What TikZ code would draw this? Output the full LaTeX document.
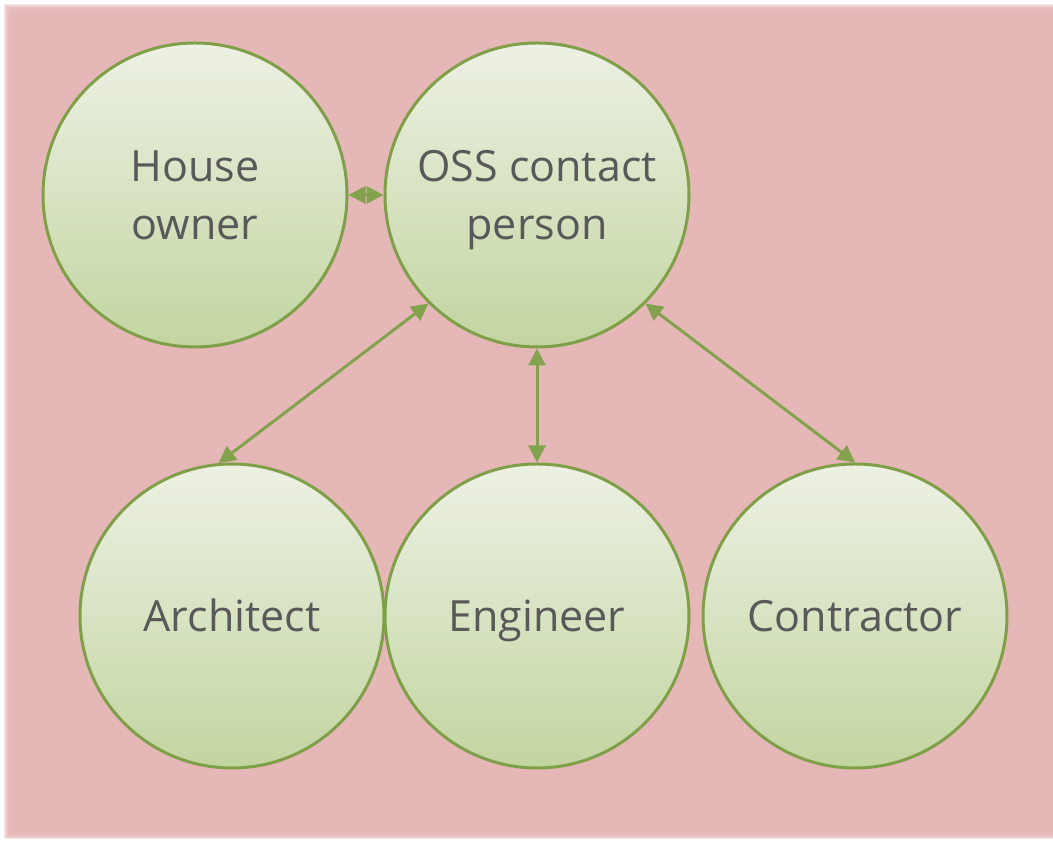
\documentclass[tikz,border=0pt]{standalone}
\usepackage{fontspec}
\setmainfont{Open Sans}
\usetikzlibrary{arrows.meta}

\definecolor{bgpink}{HTML}{E5B8B7}
\definecolor{ringgreen}{HTML}{7F9F48}
\definecolor{linkgreen}{HTML}{84A24E}
\definecolor{filltop}{HTML}{EDF1E4}
\definecolor{fillbot}{HTML}{C2D5A0}
\definecolor{txtgray}{HTML}{595959}

\begin{document}
\begin{tikzpicture}[x=1pt,y=1pt,
  % #1 = total size of the strut placed beside the label, which fixes
  % the height of the label box and so where its baseline sits
  party/.style={circle, draw=ringgreen, line width=3pt, minimum size=304pt,
    inner sep=0pt, top color=filltop, bottom color=fillbot, text=txtgray,
    font=\fontsize{43}{58}\selectfont, align=center,
    execute at begin node={\rule[-12pt]{0pt}{#1}}},
  party/.default=56pt,
  link/.style={draw=linkgreen, line width=3pt,
    {Triangle[length=17pt,width=17pt]}-{Triangle[length=17pt,width=17pt]}}]

\useasboundingbox (0,0) rectangle (1053,842);
\fill[white] (0,0) rectangle (1053,842);

% panel with soft edges
\foreach \i in {0,...,9}
  \fill[bgpink, opacity=0.35] (4+\i,3+\i) rectangle (1060,838-\i);
\fill[bgpink] (14,13) rectangle (1060,828);

% parties
\node[party=114pt] (house) at (195,647) {House\\owner};
\node[party=114pt] (oss)   at (537,647) {OSS contact\\person};
\node[party] (arch)  at (232,226) {Architect};
\node[party] (eng)   at (537,226) {Engineer};
\node[party] (contr) at (855,226) {Contractor};

% links
\draw[link] (house.east) -- (oss.west);
\draw[link] (oss.south west) -- (arch.95);
\draw[link] (oss.south) -- (eng.north);
\draw[link] (oss.south east) -- (contr.north);
\end{tikzpicture}
\end{document}
